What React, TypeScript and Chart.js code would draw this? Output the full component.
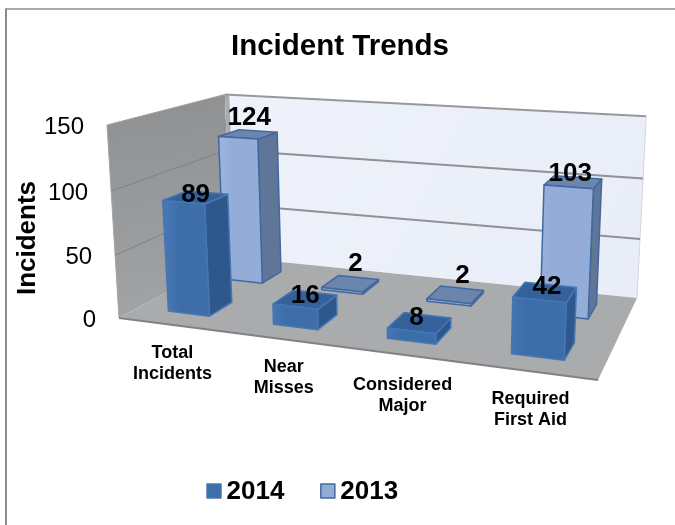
import React, { useEffect, useRef } from "react";
import { Chart, registerables } from "chart.js";

Chart.register(...registerables);

// Chart content
const categories = [["Total", "Incidents"], ["Near", "Misses"], ["Considered", "Major"], ["Required", "First Aid"]];
const seriesNames = ["2014", "2013"];
const values2014 = [89, 16, 8, 42];
const values2013 = [124, 2, 2, 103];
const chartTitle = "Incident Trends";
const valueAxisTitle = "Incidents";

const FONT = '"Liberation Sans", Arial, sans-serif';
const BAR_SHARE = 0.4;

type Pt = [number, number];

// Camera set-up: the floor quad (front-left, front-right, back-right, back-left),
// the top of the front-left upright, and how much the view grows with height
const floorCorners: Pt[] = [[119, 318], [598, 380], [637, 298], [231, 257]];
const topFrontLeft: Pt = [107, 125];
const HEIGHT_PERSPECTIVE = -0.04;
const ROLL = 5;

// Fine placement of the value labels, relative to the centre of each bar's top face
const labelShift2014: Pt[] = [[0, -3], [0, -4], [-3, -5], [2, -5]];
const labelShift2013: Pt[] = [[1, -17], [5, -20], [7, -19], [-3, -8]];
// Fine placement of the category labels, relative to the floor's front edge
const categoryShift: Pt[] = [[2, 28], [4, 28], [4, 31], [2, 28]];

const skins = [
  { front: ["#4677b4", "#3d6ea9"], side: "#2e588c", top: "#34619a", edge: "#4577b4" },
  { front: ["#9ab2dc", "#93acd8"], side: "#5f7699", top: "#6c85ad", edge: "#41699f" },
];

// Builds a projective map from (u, v, w) in 0..1 to canvas pixels
function makeProjection(q: Pt[], top: Pt, m: number, roll: number) {
  const [p00, p10, p11, p01] = q;
  const dx1 = p10[0] - p11[0], dx2 = p01[0] - p11[0], sx = p00[0] - p10[0] + p11[0] - p01[0];
  const dy1 = p10[1] - p11[1], dy2 = p01[1] - p11[1], sy = p00[1] - p10[1] + p11[1] - p01[1];
  const det = dx1 * dy2 - dx2 * dy1;
  const g = (sx * dy2 - dx2 * sy) / det;
  const h = (dx1 * sy - sx * dy1) / det;
  const a = p10[0] - p00[0] + g * p10[0], b = p01[0] - p00[0] + h * p01[0], c = p00[0];
  const d = p10[1] - p00[1] + g * p10[1], e = p01[1] - p00[1] + h * p01[1], f = p00[1];
  const kx = top[0] * (1 + m) - c;
  const ky = top[1] * (1 + m) - f;
  return (u: number, v: number, w: number): Pt => {
    const den = g * u + h * v + m * w + 1;
    return [(a * u + b * v + kx * w + c) / den, (d * u + e * v + ky * w + roll * u * w + f) / den];
  };
}

const project = makeProjection(floorCorners, topFrontLeft, HEIGHT_PERSPECTIVE, ROLL);

function poly(ctx: CanvasRenderingContext2D, pts: Pt[], fill: string | CanvasGradient, stroke?: string, lw = 1) {
  ctx.beginPath();
  pts.forEach((p, i) => (i ? ctx.lineTo(p[0], p[1]) : ctx.moveTo(p[0], p[1])));
  ctx.closePath();
  ctx.fillStyle = fill;
  ctx.fill();
  if (stroke) {
    ctx.strokeStyle = stroke;
    ctx.lineWidth = lw;
    ctx.lineJoin = "round";
    ctx.stroke();
  }
}

function line(ctx: CanvasRenderingContext2D, a: Pt, b: Pt, color: string, lw: number) {
  ctx.beginPath();
  ctx.moveTo(a[0], a[1]);
  ctx.lineTo(b[0], b[1]);
  ctx.strokeStyle = color;
  ctx.lineWidth = lw;
  ctx.stroke();
}

function drawBox(ctx: CanvasRenderingContext2D) {
  const P = project;
  const leftFill = ctx.createLinearGradient(107, 110, 130, 320);
  leftFill.addColorStop(0, "#8f9193");
  leftFill.addColorStop(1, "#a1a3a5");
  poly(ctx, [P(0, 0, 0), P(0, 1, 0), P(0, 1, 1), P(0, 0, 1)], leftFill);

  const backFill = ctx.createLinearGradient(223, 93, 640, 300);
  backFill.addColorStop(0, "#eff2fb");
  backFill.addColorStop(1, "#e8edf7");
  poly(ctx, [P(0, 1, 0), P(1, 1, 0), P(1, 1, 1), P(0, 1, 1)], backFill);

  poly(ctx, [P(0, 0, 0), P(1, 0, 0), P(1, 1, 0), P(0, 1, 0)], "#a9abad");

  // Thin lit strip where the side wall meets the back wall
  poly(ctx, [P(0, 1, 0), P(0.012, 1, 0), P(0.012, 1, 1), P(0, 1, 1)], "#a9abad");

  line(ctx, P(0, 0, 0), P(1, 0, 0), "#808285", 2);
  line(ctx, P(0, 1, 1), P(1, 1, 1), "#97989a", 2);
  line(ctx, P(1, 1, 0), P(1, 1, 1), "#d4d6da", 1);
  line(ctx, P(0, 0, 0), P(0, 0, 1), "#a2a4a6", 1);
  line(ctx, P(0, 0, 1), P(0, 1, 1), "#9d9fa1", 1);
}

function drawGrid(ctx: CanvasRenderingContext2D, levels: number[]) {
  levels.forEach((w) => {
    line(ctx, project(0, 0, w), project(0, 1, w), "#7f8183", 1);
    line(ctx, project(0.012, 1, w), project(1, 1, w), "#8f9195", 2);
  });
}

function drawBar(ctx: CanvasRenderingContext2D, u0: number, u1: number, v0: number, v1: number, w: number, skinIndex: number) {
  const P = project;
  const skin = skins[skinIndex];
  const fl = P(u0, v0, 0), fr = P(u1, v0, 0), tl = P(u0, v0, w), tr = P(u1, v0, w);
  const front = ctx.createLinearGradient(fl[0], 0, fr[0], 0);
  front.addColorStop(0, skin.front[0]);
  front.addColorStop(0.25, skin.front[1]);
  front.addColorStop(1, skin.front[1]);
  poly(ctx, [P(u1, v0, 0), P(u1, v1, 0), P(u1, v1, w), P(u1, v0, w)], skin.side, skin.edge, 1.5);
  poly(ctx, [tl, tr, P(u1, v1, w), P(u0, v1, w)], skin.top, skin.edge, 1.5);
  poly(ctx, [fl, fr, tr, tl], front, skin.edge, 1.5);
}

const obliqueBars = {
  id: "obliqueBars",
  // The library has laid out the bars; they are redrawn here as projected solids
  beforeDatasetsDraw(chart: any) {
    const ctx: CanvasRenderingContext2D = chart.ctx;
    const area = chart.chartArea;
    const yScale = chart.scales.y;
    const toU = (x: number) => (x - area.left) / area.width;
    const toW = (y: number) => (area.bottom - y) / area.height;
    const rows = chart.data.datasets.length;
    const levels = yScale.ticks.map((t: any) => toW(yScale.getPixelForValue(t.value)));
    ctx.save();

    // Chart frame: top and left rules only
    line(ctx, [6, 525], [6, 9], "#8c8c8c", 2);
    line(ctx, [5, 9], [675, 9], "#8c8c8c", 1.5);

    drawBox(ctx);
    drawGrid(ctx, levels.filter((w: number) => w > 0 && w < 1));

    const labelJobs: { text: string; at: Pt }[] = [];
    for (let ds = rows - 1; ds >= 0; ds--) {
      const v0 = (ds + 0.5 - BAR_SHARE / 2) / rows;
      const v1 = (ds + 0.5 + BAR_SHARE / 2) / rows;
      const shifts = ds === 0 ? labelShift2014 : labelShift2013;
      chart.getDatasetMeta(ds).data.forEach((el: any, i: number) => {
        const { x, y, width } = el.getProps(["x", "y", "width"], true);
        const u0 = toU(x - width / 2), u1 = toU(x + width / 2), w = toW(y);
        drawBar(ctx, u0, u1, v0, v1, w, ds);
        const c = project((u0 + u1) / 2, (v0 + v1) / 2, w);
        labelJobs.push({ text: String(chart.data.datasets[ds].data[i]), at: [c[0] + shifts[i][0], c[1] + shifts[i][1]] });
      });
    }

    // Value labels sit above every solid
    ctx.fillStyle = "#000";
    ctx.font = `bold 26px ${FONT}`;
    ctx.textAlign = "center";
    ctx.textBaseline = "middle";
    labelJobs.forEach((job) => ctx.fillText(job.text, job.at[0], job.at[1]));

    // Value axis ticks follow the front edge of the side wall
    ctx.font = `24px ${FONT}`;
    ctx.textAlign = "right";
    yScale.ticks.forEach((t: any) => {
      const p = project(0, 0, toW(yScale.getPixelForValue(t.value)));
      ctx.fillText(String(t.value), p[0] - 23, p[1] + 2);
    });

    // Value axis title
    ctx.save();
    ctx.translate(28, 238);
    ctx.rotate(-Math.PI / 2);
    ctx.font = `bold 26px ${FONT}`;
    ctx.textAlign = "center";
    ctx.fillText(valueAxisTitle, 0, 0);
    ctx.restore();

    // Category labels hang under the front edge of the floor
    const xScale = chart.scales.x;
    ctx.font = `bold 18px ${FONT}`;
    ctx.textAlign = "center";
    chart.data.labels.forEach((lines: string[], i: number) => {
      const p = project(toU(xScale.getPixelForValue(i)), 0, 0);
      lines.forEach((text, k) => ctx.fillText(text, p[0] + categoryShift[i][0], p[1] + categoryShift[i][1] + k * 21));
    });

    // Legend
    let cursor = 206;
    ctx.textAlign = "left";
    chart.data.datasets.forEach((ds: any, i: number) => {
      ctx.fillStyle = ds.backgroundColor;
      ctx.strokeStyle = skins[i].edge;
      ctx.lineWidth = 1.5;
      ctx.fillRect(cursor + 1, 484, 14, 14);
      ctx.strokeRect(cursor + 1, 484, 14, 14);
      ctx.fillStyle = "#000";
      ctx.font = `bold 26px ${FONT}`;
      ctx.fillText(ds.label, cursor + 20.5, 491.5);
      cursor += 20.5 + ctx.measureText(ds.label).width + 35.5;
    });

    ctx.restore();
    return false;
  },
};

export default function App() {
  const ref = useRef<HTMLCanvasElement>(null);
  useEffect(() => {
    const chart = new Chart(ref.current as HTMLCanvasElement, {
      type: "bar",
      data: {
        labels: categories as any,
        datasets: [
          { label: seriesNames[0], data: values2014, backgroundColor: "#3f6fa9" },
          { label: seriesNames[1], data: values2013, backgroundColor: "#93acd6" },
        ],
      },
      options: {
        responsive: false,
        animation: false,
        grouped: false,
        barPercentage: BAR_SHARE,
        categoryPercentage: 1,
        layout: { padding: { top: 6, left: 5 } },
        plugins: {
          legend: { display: false },
          tooltip: { enabled: false },
          title: {
            display: true,
            text: chartTitle,
            color: "#000",
            font: { family: FONT, size: 29.5, weight: "bold" },
            padding: { top: 23, bottom: 20 },
          },
        },
        scales: {
          x: { display: false },
          y: { display: false, min: 0, max: 150, ticks: { stepSize: 50 } },
        },
      } as any,
      plugins: [obliqueBars],
    });
    return () => chart.destroy();
  }, []);
  return (
    <div style={{ position: "fixed", left: 0, top: 0, width: 675, height: 525, background: "#fff" }}>
      <canvas ref={ref} width={675} height={525} style={{ display: "block" }} />
    </div>
  );
}
